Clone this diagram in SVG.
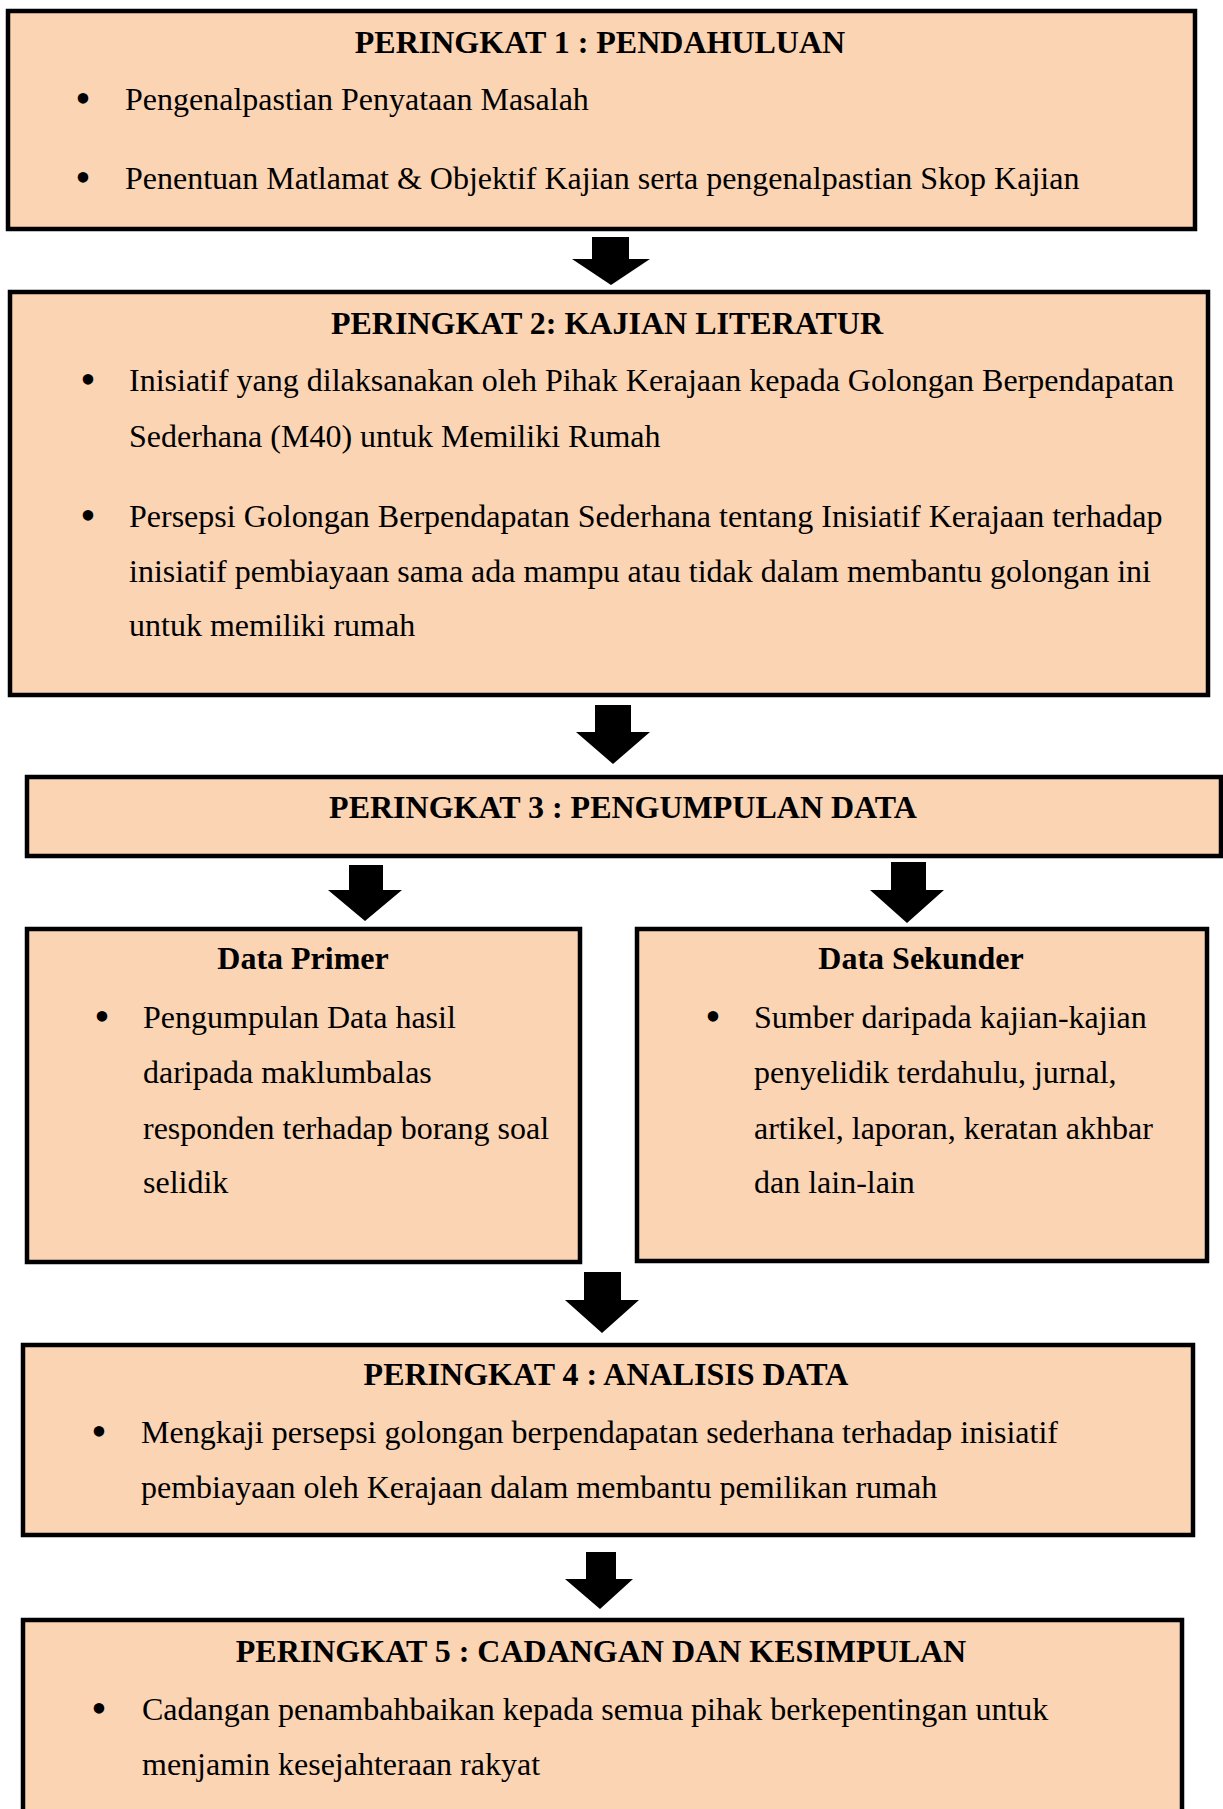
<svg xmlns="http://www.w3.org/2000/svg" width="1223" height="1809" viewBox="0 0 1223 1809">
<style>
.box{fill:#FBD4B4;stroke:#000;stroke-width:4.5}
.t{font-family:"Liberation Serif","Times New Roman",serif;font-size:32px;fill:#000}
.h{font-weight:bold;text-anchor:middle}
.b{text-anchor:middle;font-size:44px}
.arr{fill:#000}
</style>
<rect width="1223" height="1809" fill="#fff"/>
<g id="connectors">
<polygon class="arr" points="592,237 629,237 629,259 650,259 611,285 572,259 592,259"/>
<polygon class="arr" points="595,705 631,705 631,732 650,732 613,764 576,732 595,732"/>
<polygon class="arr" points="349,865 383,865 383,890 402,890 365,921 328,890 349,890"/>
<polygon class="arr" points="891,862 926,862 926,890 944,890 907,923 870,890 891,890"/>
<polygon class="arr" points="584,1272 621,1272 621,1300 639,1300 602,1333 565,1300 584,1300"/>
<polygon class="arr" points="586,1552 616,1552 616,1579 633,1579 600,1609 565,1579 586,1579"/>
</g>
<g id="stage1">
<rect class="box" x="8" y="11" width="1187" height="218"/>
<text class="t h" x="600" y="53">PERINGKAT 1 : PENDAHULUAN</text>
<text class="t b" x="83" y="113">•</text>
<text class="t" x="125" y="110">Pengenalpastian Penyataan Masalah</text>
<text class="t b" x="83" y="192">•</text>
<text class="t" x="125" y="189">Penentuan Matlamat &amp; Objektif Kajian serta pengenalpastian Skop Kajian</text>
</g>
<g id="stage2">
<rect class="box" x="10" y="292" width="1198" height="403"/>
<text class="t h" x="607" y="334">PERINGKAT 2: KAJIAN LITERATUR</text>
<text class="t b" x="88" y="394">•</text>
<text class="t" x="129" y="391">Inisiatif yang dilaksanakan oleh Pihak Kerajaan kepada Golongan Berpendapatan</text>
<text class="t" x="129" y="447">Sederhana (M40) untuk Memiliki Rumah</text>
<text class="t b" x="88" y="530">•</text>
<text class="t" x="129" y="527">Persepsi Golongan Berpendapatan Sederhana tentang Inisiatif Kerajaan terhadap</text>
<text class="t" x="129" y="582">inisiatif pembiayaan sama ada mampu atau tidak dalam membantu golongan ini</text>
<text class="t" x="129" y="636">untuk memiliki rumah</text>
</g>
<g id="stage3">
<rect class="box" x="27" y="777" width="1194" height="79"/>
<text class="t h" x="623" y="818">PERINGKAT 3 : PENGUMPULAN DATA</text>
</g>
<g id="data-primer">
<rect class="box" x="27" y="929" width="553" height="333"/>
<text class="t h" x="303" y="969">Data Primer</text>
<text class="t b" x="102" y="1031">•</text>
<text class="t" x="143" y="1028">Pengumpulan Data hasil</text>
<text class="t" x="143" y="1083">daripada maklumbalas</text>
<text class="t" x="143" y="1139">responden terhadap borang soal</text>
<text class="t" x="143" y="1193">selidik</text>
</g>
<g id="data-sekunder">
<rect class="box" x="637" y="929" width="570" height="332"/>
<text class="t h" x="921" y="969">Data Sekunder</text>
<text class="t b" x="713" y="1031">•</text>
<text class="t" x="754" y="1028">Sumber daripada kajian-kajian</text>
<text class="t" x="754" y="1083">penyelidik terdahulu, jurnal,</text>
<text class="t" x="754" y="1139">artikel, laporan, keratan akhbar</text>
<text class="t" x="754" y="1193">dan lain-lain</text>
</g>
<g id="stage4">
<rect class="box" x="23" y="1345" width="1170" height="190"/>
<text class="t h" x="606" y="1385">PERINGKAT 4 : ANALISIS DATA</text>
<text class="t b" x="99" y="1446">•</text>
<text class="t" x="141" y="1443">Mengkaji persepsi golongan berpendapatan sederhana terhadap inisiatif</text>
<text class="t" x="141" y="1498">pembiayaan oleh Kerajaan dalam membantu pemilikan rumah</text>
</g>
<g id="stage5">
<rect class="box" x="23" y="1620" width="1159" height="220"/>
<text class="t h" x="601" y="1662">PERINGKAT 5 : CADANGAN DAN KESIMPULAN</text>
<text class="t b" x="99" y="1723">•</text>
<text class="t" x="142" y="1720">Cadangan penambahbaikan kepada semua pihak berkepentingan untuk</text>
<text class="t" x="142" y="1775">menjamin kesejahteraan rakyat</text>
</g>
</svg>
